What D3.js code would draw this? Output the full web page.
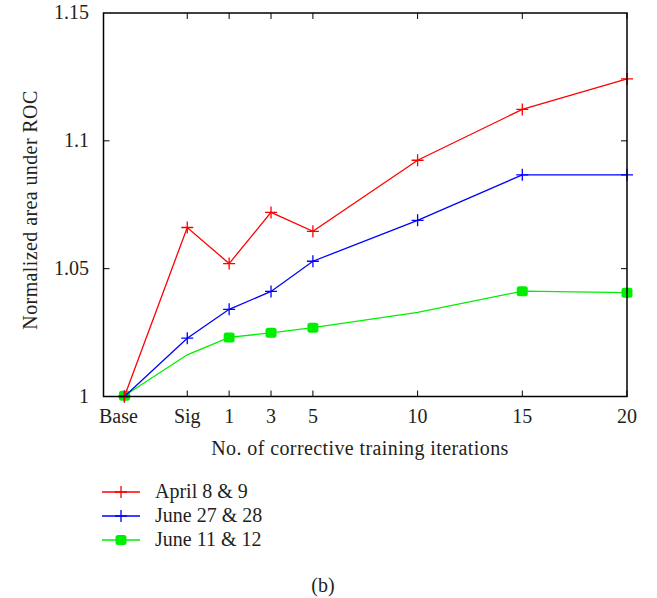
<!DOCTYPE html>
<html>
<head>
<meta charset="utf-8">
<script src="https://cdn.jsdelivr.net/npm/d3@7"></script>
<style>
body { margin: 0; background: #fff; }
text { font-family: "Liberation Serif", "DejaVu Serif", serif; fill: #231f20; }
</style>
</head>
<body>
<svg id="frame" width="657" height="598"></svg>
<script>
// x positions of the categories on a linear axis (Base and Sig sit left of 1)
const xCats = ["Base", "Sig", "1", "3", "5", "10", "15", "20"];
const xPos = [-4, -1, 1, 3, 5, 10, 15, 20];

const april = [1.0, 1.0661, 1.052, 1.072, 1.0646, 1.0924, 1.1123, 1.1242];
const june27 = [1.0, 1.0228, 1.0341, 1.0411, 1.0529, 1.0689, 1.0867, 1.0867];
const june11 = [1.0003, 1.0163, 1.0231, 1.0249, 1.0269, 1.0329, 1.0412, 1.0406];
// green series only shows markers at some points
const june11Marked = [true, false, true, true, true, false, true, true];

const yTicks = [1, 1.05, 1.1, 1.15];
const yTickLabels = ["1", "1.05", "1.1", "1.15"];

const series = [
  { name: "April 8 & 9", values: april, color: "#ff0000", marker: "plus" },
  { name: "June 27 & 28", values: june27, color: "#0000ff", marker: "plus" },
  { name: "June 11 & 12", values: june11, color: "#00ee00", marker: "square", marked: june11Marked }
];

const config = { left: 103.5, right: 627, top: 13, bottom: 396.5, font: 20 };

const svg = d3.select("#frame");

const x = d3.scaleLinear().domain([-5, 20]).range([config.left, config.right]);
const y = d3.scaleLinear().domain([1, 1.15]).range([config.bottom, config.top]);

// tick marks, inside and mirrored
const tickLen = 6;
const ticks = svg.append("g").attr("stroke", "#000").attr("stroke-width", 1);
xPos.forEach((p, i) => {
  if (i === 0) return;
  ticks.append("line").attr("x1", x(p)).attr("x2", x(p)).attr("y1", config.bottom).attr("y2", config.bottom - tickLen);
  ticks.append("line").attr("x1", x(p)).attr("x2", x(p)).attr("y1", config.top).attr("y2", config.top + tickLen);
});
yTicks.slice(1, -1).forEach(t => {
  ticks.append("line").attr("x1", config.left).attr("x2", config.left + tickLen).attr("y1", y(t)).attr("y2", y(t));
  ticks.append("line").attr("x1", config.right).attr("x2", config.right - tickLen).attr("y1", y(t)).attr("y2", y(t));
});

// tick labels
svg.append("g").selectAll("text").data(xCats).join("text")
  .attr("x", (d, i) => x(xPos[i]) - (i === 0 ? 6 : 0))
  .attr("y", 423)
  .attr("text-anchor", "middle")
  .attr("font-size", config.font)
  .text(d => d);

svg.append("g").selectAll("text").data(yTicks).join("text")
  .attr("x", 89)
  .attr("y", d => y(d) + 6)
  .attr("text-anchor", "end")
  .attr("font-size", config.font)
  .text((d, i) => yTickLabels[i]);

// axis titles
svg.append("text")
  .attr("x", 360).attr("y", 455)
  .attr("text-anchor", "middle").attr("font-size", config.font)
  .attr("letter-spacing", 0.4)
  .text("No. of corrective training iterations");

svg.append("text")
  .attr("transform", "translate(37,210) rotate(-90)")
  .attr("text-anchor", "middle").attr("font-size", config.font)
  .attr("letter-spacing", 0.4)
  .text("Normalized area under ROC");

// lines and markers
const line = d3.line().x((d, i) => x(xPos[i])).y(d => y(d));

function drawMarker(g, type, cx, cy, color) {
  if (type === "plus") {
    g.append("path")
      .attr("d", `M${cx - 6},${cy}H${cx + 6}M${cx},${cy - 6}V${cy + 6}`)
      .attr("stroke", color).attr("stroke-width", 1.3).attr("fill", "none");
  } else {
    g.append("rect")
      .attr("x", cx - 5.5).attr("y", cy - 5).attr("width", 11).attr("height", 10)
      .attr("rx", 2.5).attr("fill", color);
  }
}

const plot = svg.append("g");
series.slice().reverse().forEach(s => {
  const g = plot.append("g");
  g.append("path").datum(s.values)
    .attr("d", line)
    .attr("fill", "none").attr("stroke", s.color).attr("stroke-width", 1.3);
  s.values.forEach((v, i) => {
    if (s.marked && !s.marked[i]) return;
    drawMarker(g, s.marker, x(xPos[i]), y(v), s.color);
  });
});

// frame
svg.append("rect")
  .attr("x", config.left).attr("y", config.top)
  .attr("width", config.right - config.left).attr("height", config.bottom - config.top)
  .attr("fill", "none").attr("stroke", "#000").attr("stroke-width", 1.5);

// legend
const legendY = [492, 516, 540];
const legend = svg.append("g").selectAll("g").data(series).join("g")
  .attr("transform", (d, i) => `translate(0,${legendY[i]})`);
legend.append("line")
  .attr("x1", 102).attr("x2", 140)
  .attr("stroke", d => d.color).attr("stroke-width", 1.3);
legend.each(function (d) {
  drawMarker(d3.select(this), d.marker, 121, 0, d.color);
});
legend.append("text")
  .attr("x", 155).attr("y", 6)
  .attr("font-size", config.font)
  .text(d => d.name);

svg.append("text")
  .attr("x", 323).attr("y", 592)
  .attr("text-anchor", "middle").attr("font-size", config.font)
  .text("(b)");
</script>
</body>
</html>
